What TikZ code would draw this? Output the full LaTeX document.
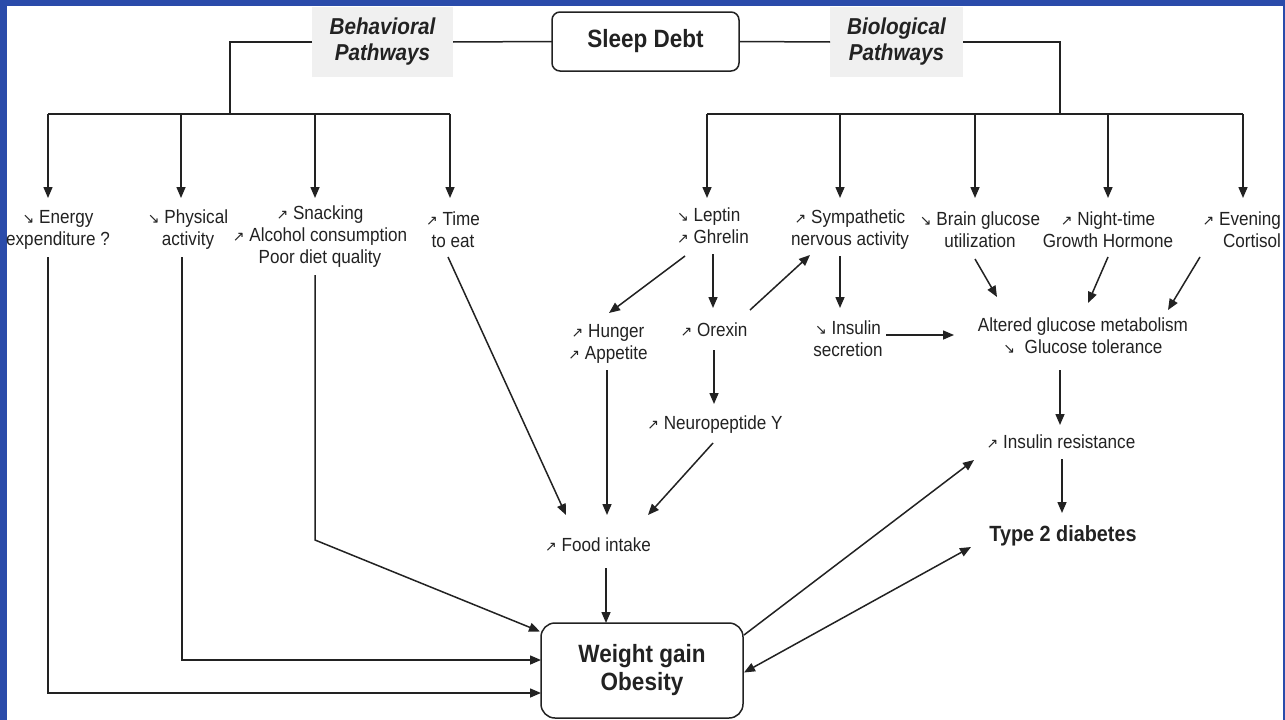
\documentclass[tikz,border=0pt]{standalone}
\usepackage{fontspec}
\setmainfont{Liberation Sans}[FakeStretch=0.9]
\newfontfamily\arrfont{DejaVu Sans}
\usetikzlibrary{arrows.meta,calc}
\definecolor{frameblue}{HTML}{2A4BAA}
\definecolor{ink}{HTML}{222222}
\definecolor{pathgray}{HTML}{F0F0F0}
\newcommand\incup{{\arrfont\fontsize{14}{14}\selectfont ↗}}
\newcommand\incdn{{\arrfont\fontsize{14}{14}\selectfont ↘}}
\begin{document}
\begin{tikzpicture}[x=1pt,y=-1pt,
  txt/.style={inner sep=0pt, outer sep=0pt, align=center, text=ink,
    font=\fontsize{19}{22}\selectfont},
  sleepbox/.style={draw=ink, line width=1.5pt, rounded corners=8pt, inner sep=0pt,
    outer sep=0pt, minimum width=187pt, minimum height=59pt, text=ink,
    font=\bfseries\fontsize{25}{28}\selectfont},
  obesbox/.style={draw=ink, line width=1.5pt, rounded corners=14pt, inner sep=0pt,
    outer sep=0pt, minimum width=202pt, minimum height=95pt, text=ink, align=center,
    font=\bfseries\fontsize{25}{28}\selectfont},
  pathbox/.style={fill=pathgray, inner sep=0pt, outer sep=0pt, minimum width=141pt,
    minimum height=70pt, align=center, text=ink,
    font=\bfseries\itshape\fontsize{23}{26}\selectfont},
  ln/.style={draw=ink, line width=1.5pt},
  arr/.style={ln, -{Triangle[length=11pt,width=9pt]}},
  darr/.style={ln, {Triangle[length=11pt,width=9pt]}-{Triangle[length=11pt,width=9pt]}}
]
\useasboundingbox (0,0) rectangle (1285,720);
\fill[white] (0,0) rectangle (1285,720);
\fill[frameblue] (0,0) rectangle (1285,6);
\fill[frameblue] (0,0) rectangle (7,720);
\fill[frameblue] (1283,0) rectangle (1285,720);

% top nodes
\node[sleepbox] (sleep) at (645.5,41.5) {Sleep Debt};
\node[pathbox] (behav) at (382.5,42) {Behavioral\\Pathways};
\node[pathbox, minimum width=133pt] (bio) at (896.5,42) {Biological\\Pathways};

% bus coordinates
\coordinate (lj) at (230,114);
\coordinate (rj) at (1060,114);
\coordinate (bl1) at (48,114);
\coordinate (bl4) at (450,114);
\coordinate (br1) at (707,114);
\coordinate (br5) at (1243,114);

% second-row nodes
\node[txt] (energy) at (58,230) {\incdn\ Energy\\expenditure ?};
\node[txt] (phys) at (188,230) {\incdn\ Physical\\activity};
\node[txt] (snack) at (320,236.5) {\incup\ Snacking\\\incup\ Alcohol consumption\\Poor diet quality};
\node[txt] (time) at (453,230) {\incup\ Time\\to eat};
\node[txt, align=left] (lep) at (713,226) {\incdn\ Leptin\\\incup\ Ghrelin};
\node[txt] (symp) at (850,230) {\incup\ Sympathetic\\nervous activity};
\node[txt] (brain) at (980,230) {\incdn\ Brain glucose\\utilization};
\node[txt] (night) at (1108,230) {\incup\ Night-time\\Growth Hormone};
\node[txt, align=right, anchor=east] (even) at (1281,230) {\incup\ Evening\\Cortisol};

% middle nodes
\node[txt] (hun) at (608,344) {\incup\ Hunger\\\incup\ Appetite};
\node[txt] (orex) at (714,330) {\incup\ Orexin};
\node[txt] (inss) at (848,339) {\incdn\ Insulin\\secretion};
\node[txt] (alt) at (1083,336) {Altered glucose metabolism\\\incdn\ \ Glucose tolerance};
\node[txt] (npy) at (715,425) {\incup\ Neuropeptide Y};
\node[txt] (insr) at (1061,442) {\incup\ Insulin resistance};
\node[txt] (food) at (598,545) {\incup\ Food intake};
\node[txt, font=\bfseries\fontsize{22}{24}\selectfont] (t2d) at (1063,536) {Type 2 diabetes};
\node[obesbox] (obes) at (642,670.5) {Weight gain\\Obesity};

% top connectors
\draw[ln] (sleep.west) -- (behav.east);
\draw[ln] (behav.west) -| (lj);
\draw[ln] (bl1) -- (bl4);
\draw[ln] (sleep.east) -- (bio.west);
\draw[ln] (bio.east) -| (rj);
\draw[ln] (br1) -- (br5);

% bus arrows
\draw[arr] (bl1) -- ($(energy.center)+(-10,-32)$);
\draw[arr] (bl1 -| phys.center) ++(-7,0) -- ($(phys.center)+(-7,-32)$);
\draw[arr] (bl1 -| snack.center) ++(-5,0) -- ($(snack.center)+(-5,-38.5)$);
\draw[arr] (bl4) -- ($(time.center)+(-3,-32)$);
\draw[arr] (br1) -- ($(lep.center)+(-6,-28)$);
\draw[arr] (br1 -| symp.center) ++(-10,0) -- ($(symp.center)+(-10,-32)$);
\draw[arr] (br1 -| brain.center) ++(-5,0) -- ($(brain.center)+(-5,-32)$);
\draw[arr] (br1 -| night.center) -- ($(night.center)+(0,-32)$);
\draw[arr] (br5) -- ($(even.east)+(-38,-32)$);

% behavioral pathways to obesity
\draw[arr] ($(energy.center)+(-10,27)$) |- ($(obes.west)+(0,22.5)$);
\draw[arr] ($(phys.center)+(-6,27)$) |- ($(obes.west)+(0,-10.5)$);
\draw[arr] ($(snack.center)+(-5,38.5)$) -- ++(0,265) -- ($(obes.center)+(-102,-39)$);
\draw[arr] ($(time.center)+(-5,27)$) -- ($(food.center)+(-32,-30)$);

% food intake
\draw[arr] ($(hun.center)+(-1,26)$) -- ($(food.center)+(9,-30)$);
\draw[arr] ($(npy.center)+(-2,18)$) -- ($(food.center)+(50,-30)$);
\draw[arr] ($(food.center)+(8,23)$) -- ($(obes.north)+(-36,0)$);

% biological pathways
\draw[arr] ($(lep.center)+(-28,30)$) -- ($(hun.center)+(1,-31)$);
\draw[arr] ($(lep.center)+(0,28)$) -- ($(orex.center)+(-1,-22)$);
\draw[arr] ($(orex.center)+(36,-20)$) -- ($(symp.center)+(-40,25)$);
\draw[arr] ($(symp.center)+(-10,26)$) -- ($(inss.center)+(-8,-31)$);
\draw[arr] ($(orex.center)+(0,20)$) -- ($(npy.center)+(-1,-21)$);
\draw[arr] ($(brain.center)+(-5,29)$) -- ($(alt.center)+(-86,-39)$);
\draw[arr] ($(night.center)+(0,27)$) -- ($(alt.center)+(5,-33)$);
\draw[arr] ($(even.east)+(-81,27)$) -- ($(alt.center)+(85,-26)$);
\draw[arr] ($(inss.center)+(38,-4)$) -- ($(alt.center)+(-129,-1)$);
\draw[arr] ($(alt.center)+(-23,34)$) -- ($(insr.center)+(-1,-17)$);
\draw[arr] ($(insr.center)+(1,17)$) -- ($(t2d.center)+(-1,-23)$);

% obesity links
\draw[arr] ($(obes.center)+(102,-35.5)$) -- ($(insr.center)+(-87,18)$);
\draw[darr] ($(obes.east)+(1,2)$) -- ($(t2d.center)+(-92,11)$);
\end{tikzpicture}
\end{document}
